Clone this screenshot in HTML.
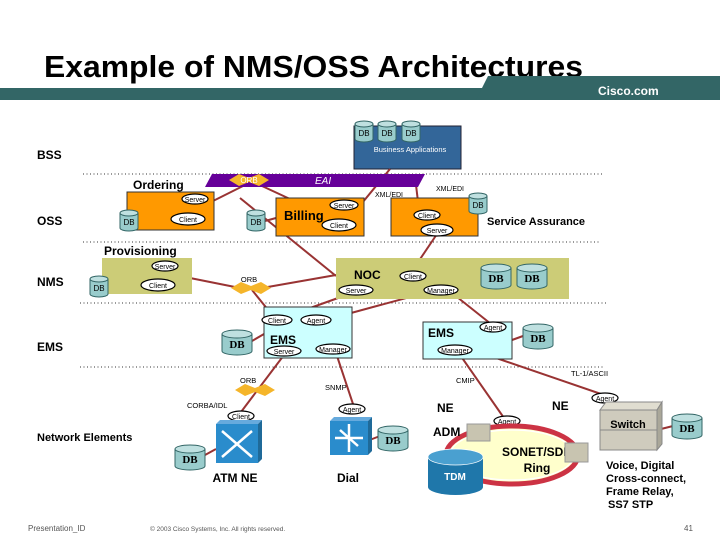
<!DOCTYPE html>
<html><head><meta charset="utf-8"><style>
html,body{margin:0;padding:0;background:#fff;}
svg{display:block;font-family:"Liberation Sans",sans-serif;}
</style></head><body>
<svg width="720" height="540" viewBox="0 0 720 540" xmlns="http://www.w3.org/2000/svg">
<defs>
<g id="db"><path d="M0,3 v15 a9,3 0 0 0 18,0 v-15" fill="#99cccc" stroke="#336666"/><ellipse cx="9" cy="3" rx="9" ry="3" fill="#bfe0e0" stroke="#336666"/><text x="9" y="15" font-size="8" text-anchor="middle" fill="#000">DB</text></g>
<g id="dbb"><path d="M0,4 v17 a15,4 0 0 0 30,0 v-17" fill="#99cccc" stroke="#336666"/><ellipse cx="15" cy="4" rx="15" ry="4" fill="#bfe0e0" stroke="#336666"/><text x="15" y="18" font-size="11" font-weight="bold" font-family="Liberation Serif,serif" text-anchor="middle" fill="#000">DB</text></g>
<g id="orb"><polygon points="-20,0 -10,-6 0,-2 10,-6 20,0 10,6 0,2 -10,6" fill="#f5b52a"/></g>
</defs>
<!-- title -->
<text x="44" y="77" font-size="31" font-weight="bold" fill="#000" textLength="539" lengthAdjust="spacingAndGlyphs">Example of NMS/OSS Architectures</text>
<rect x="0" y="88" width="720" height="12" fill="#336666"/>
<polygon points="488,76 720,76 720,100 476,100" fill="#336666"/>
<text x="598" y="95" font-size="12" font-weight="bold" fill="#fff">Cisco.com</text>
<!-- dotted lines -->
<g stroke="#333" stroke-width="1" stroke-dasharray="1,2.5">
<line x1="83" y1="174" x2="603" y2="174"/><line x1="83" y1="242" x2="600" y2="242"/>
<line x1="80" y1="303" x2="607" y2="303"/><line x1="80" y1="367" x2="605" y2="367"/>
</g>
<!-- labels -->
<g font-size="12" font-weight="bold" fill="#000">
<text x="37" y="159">BSS</text><text x="37" y="225">OSS</text><text x="37" y="286">NMS</text><text x="37" y="351">EMS</text>
<text x="37" y="441" font-size="11">Network Elements</text>
</g>
<!-- business apps -->
<rect x="354" y="126" width="107" height="43" fill="#336699" stroke="#223"/>
<use href="#db" x="355" y="121"/><use href="#db" x="378" y="121"/><use href="#db" x="402" y="121"/>
<text x="410" y="152" font-size="7.5" fill="#fff" text-anchor="middle">Business Applications</text>
<!-- red lines -->
<g stroke="#993333" stroke-width="2" fill="none">
<line x1="390" y1="169" x2="358" y2="208"/>
<line x1="249" y1="183" x2="209" y2="203"/>
<line x1="262" y1="186" x2="290" y2="199"/>
<line x1="416" y1="185" x2="419" y2="210"/>
<line x1="240" y1="198" x2="336" y2="276"/>
<line x1="265" y1="221" x2="276" y2="218"/>
<line x1="437" y1="234" x2="410" y2="274"/>
<line x1="180" y1="276" x2="240" y2="288"/>
<line x1="336" y1="275" x2="262" y2="288"/>
<line x1="252" y1="290" x2="273" y2="316"/>
<line x1="352" y1="293" x2="285" y2="317"/>
<line x1="432" y1="291" x2="329" y2="319"/>
<line x1="452" y1="293" x2="491" y2="324"/>
<line x1="252" y1="341" x2="264" y2="334"/>
<line x1="284" y1="355" x2="241" y2="412"/>
<line x1="336" y1="353" x2="353" y2="404"/>
<line x1="458" y1="352" x2="504" y2="418"/>
<line x1="470" y1="349" x2="604" y2="395"/>
<line x1="523" y1="336" x2="512" y2="340"/>
<line x1="380" y1="436" x2="367" y2="441"/>
<line x1="673" y1="426" x2="657" y2="430"/>
<line x1="205" y1="455" x2="216" y2="449"/>
</g>
<!-- EAI -->
<polygon points="212,174 425,174 418,187 205,187" fill="#660099"/>
<use href="#orb" x="249" y="180"/>
<text x="249" y="183" font-size="8" fill="#fff" text-anchor="middle">ORB</text>
<text x="315" y="184" font-size="10" font-style="italic" fill="#fff">EAI</text>
<!-- Ordering -->
<text x="133" y="189" font-size="12" font-weight="bold">Ordering</text>
<rect x="127" y="192" width="87" height="38" fill="#ff9900" stroke="#333"/>
<use href="#db" x="120" y="210"/>
<use href="#db" x="247" y="210"/>
<!-- Billing -->
<rect x="276" y="198" width="88" height="38" fill="#ff9900" stroke="#333"/>
<text x="284" y="220" font-size="13" font-weight="bold">Billing</text>
<!-- SA -->
<rect x="391" y="198" width="87" height="38" fill="#ff9900" stroke="#333"/>
<use href="#db" x="469" y="193"/>
<text x="487" y="225" font-size="11" font-weight="bold">Service Assurance</text>
<text x="375" y="197" font-size="7">XML/EDI</text><text x="436" y="191" font-size="7">XML/EDI</text>
<!-- Provisioning -->
<text x="104" y="255" font-size="12" font-weight="bold">Provisioning</text>
<rect x="102" y="258" width="90" height="36" fill="#cccc77"/>
<use href="#db" x="90" y="276"/>
<!-- NOC -->
<rect x="336" y="258" width="233" height="41" fill="#cccc77"/>
<text x="354" y="279" font-size="12" font-weight="bold">NOC</text>
<use href="#dbb" x="481" y="264"/><use href="#dbb" x="517" y="264"/>
<use href="#orb" x="251" y="288"/>
<text x="249" y="282" font-size="7.5" text-anchor="middle">ORB</text>
<!-- EMS left -->
<rect x="264" y="307" width="88" height="51" fill="#ccffff" stroke="#333"/>
<text x="270" y="344" font-size="12" font-weight="bold">EMS</text>
<use href="#dbb" x="222" y="330"/>
<!-- EMS right -->
<rect x="423" y="322" width="89" height="37" fill="#ccffff" stroke="#333"/>
<text x="428" y="337" font-size="12" font-weight="bold">EMS</text>
<use href="#dbb" x="523" y="324"/>
<!-- ellipses -->
<g fill="#fff" stroke="#000" stroke-width="1.2">
<ellipse cx="195" cy="199" rx="13" ry="5"/>
<ellipse cx="188" cy="219" rx="17" ry="6"/>
<ellipse cx="344" cy="205" rx="14" ry="5"/>
<ellipse cx="339" cy="225" rx="17" ry="6"/>
<ellipse cx="427" cy="215" rx="13" ry="5"/>
<ellipse cx="437" cy="230" rx="16" ry="6"/>
<ellipse cx="165" cy="266" rx="13" ry="5"/>
<ellipse cx="158" cy="285" rx="17" ry="6"/>
<ellipse cx="356" cy="290" rx="17" ry="5"/>
<ellipse cx="413" cy="276" rx="13" ry="5"/>
<ellipse cx="441" cy="290" rx="17" ry="5"/>
<ellipse cx="277" cy="320" rx="15" ry="5"/>
<ellipse cx="316" cy="320" rx="15" ry="5"/>
<ellipse cx="284" cy="351" rx="17" ry="5"/>
<ellipse cx="333" cy="349" rx="17" ry="5"/>
<ellipse cx="493" cy="327" rx="13" ry="5"/>
<ellipse cx="455" cy="350" rx="17" ry="5"/>
<ellipse cx="241" cy="416" rx="13" ry="5"/>
<ellipse cx="352" cy="409" rx="13" ry="5"/>
<ellipse cx="507" cy="421" rx="13" ry="5"/>
<ellipse cx="605" cy="398" rx="13" ry="5"/>
</g>
<g fill="#000" font-size="7" text-anchor="middle">
<text x="195" y="202">Server</text>
<text x="188" y="222">Client</text>
<text x="344" y="208">Server</text>
<text x="339" y="228">Client</text>
<text x="427" y="218">Client</text>
<text x="437" y="233">Server</text>
<text x="165" y="269">Server</text>
<text x="158" y="288">Client</text>
<text x="356" y="293">Server</text>
<text x="413" y="279">Client</text>
<text x="441" y="293">Manager</text>
<text x="277" y="323">Client</text>
<text x="316" y="323">Agent</text>
<text x="284" y="354">Server</text>
<text x="333" y="352">Manager</text>
<text x="493" y="330">Agent</text>
<text x="455" y="353">Manager</text>
<text x="241" y="419">Client</text>
<text x="352" y="412">Agent</text>
<text x="507" y="424">Agent</text>
<text x="605" y="401">Agent</text>
</g>
<use href="#orb" x="255" y="390"/>
<g font-size="7.5">
<text x="240" y="383">ORB</text><text x="187" y="408">CORBA/IDL</text>
<text x="325" y="390">SNMP</text><text x="456" y="383">CMIP</text><text x="571" y="376">TL-1/ASCII</text>
</g>
<!-- ATM NE -->
<polygon points="216,424 220,420 262,420 258,424" fill="#66aadd"/>
<polygon points="258,424 262,420 262,459 258,463" fill="#1f6a99"/>
<rect x="216" y="424" width="42" height="39" fill="#2a8ccc"/>
<path d="M222,431 L252,457 M252,431 L222,457" stroke="#fff" stroke-width="2.5" fill="none"/>
<use href="#dbb" x="175" y="445"/>
<text x="235" y="482" font-size="12" font-weight="bold" text-anchor="middle">ATM NE</text>
<!-- Dial -->
<polygon points="330,421 334,417 372,417 368,421" fill="#66aadd"/>
<polygon points="368,421 372,417 372,451 368,455" fill="#1f6a99"/>
<rect x="330" y="421" width="38" height="34" fill="#2a8ccc"/>
<path d="M349,424 v28 M335,438 h28 M340,430 l18,16" stroke="#fff" stroke-width="2.5" fill="none"/>
<use href="#dbb" x="378" y="426"/>
<text x="348" y="482" font-size="12" font-weight="bold" text-anchor="middle">Dial</text>
<!-- ring -->
<ellipse cx="512" cy="455" rx="66" ry="29" fill="#ffffcc" stroke="#cc3344" stroke-width="5"/>
<ellipse cx="512" cy="455" rx="62" ry="25" fill="none" stroke="#fff" stroke-width="1.2"/>
<text x="537" y="456" font-size="12" font-weight="bold" text-anchor="middle">SONET/SDH</text>
<text x="537" y="472" font-size="12" font-weight="bold" text-anchor="middle">Ring</text>
<rect x="467" y="424" width="23" height="17" fill="#c8c4b0" stroke="#999"/>
<rect x="565" y="443" width="23" height="19" fill="#c8c4b0" stroke="#999"/>
<text x="433" y="436" font-size="12" font-weight="bold">ADM</text>
<text x="437" y="412" font-size="12" font-weight="bold">NE</text>
<text x="552" y="410" font-size="12" font-weight="bold">NE</text>
<!-- TDM -->
<path d="M428,457 v30 a27.5,8 0 0 0 55,0 v-30" fill="#1f77aa"/>
<ellipse cx="455.5" cy="457" rx="27.5" ry="8" fill="#4aa0d0" stroke="#fff" stroke-width="0.7"/>
<text x="455" y="480" font-size="10" font-weight="bold" fill="#fff" text-anchor="middle">TDM</text>
<!-- switch -->
<polygon points="600,410 606,402 662,402 657,410" fill="#e0ddd0" stroke="#888"/>
<polygon points="657,410 662,402 662,444 657,450" fill="#aaa799" stroke="#888"/>
<rect x="600" y="410" width="57" height="40" fill="#cfcbbd" stroke="#888"/>
<line x1="600" y1="430" x2="657" y2="430" stroke="#888"/>
<text x="628" y="428" font-size="11" font-weight="bold" text-anchor="middle">Switch</text>
<use href="#dbb" x="672" y="414"/>
<g font-size="11" font-weight="bold">
<text x="606" y="469">Voice, Digital</text><text x="606" y="482">Cross-connect,</text>
<text x="606" y="495">Frame Relay,</text><text x="608" y="508">SS7 STP</text>
</g>
<!-- footer -->
<g font-size="8" fill="#555">
<text x="28" y="531">Presentation_ID</text>
<text x="150" y="531" font-size="6.5">© 2003 Cisco Systems, Inc. All rights reserved.</text>
<text x="684" y="531">41</text>
</g>
</svg>
</body></html>
